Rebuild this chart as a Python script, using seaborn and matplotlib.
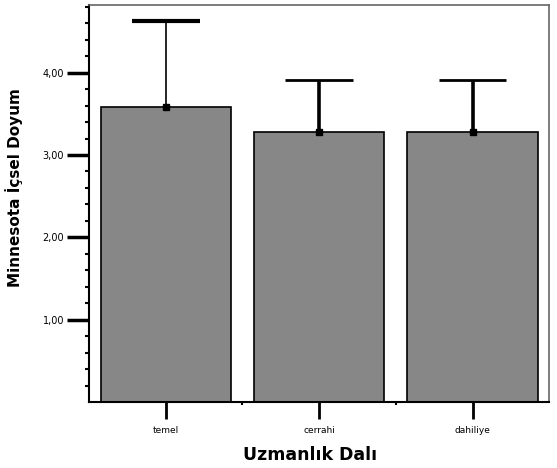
import numpy as np
import pandas as pd
import seaborn as sns
import matplotlib.pyplot as plt
from matplotlib.ticker import FixedLocator, FuncFormatter

# Data
categories = ['temel', 'cerrahi', 'dahiliye']
means = [3.58, 3.28, 3.28]
upper_err = [1.05, 0.63, 0.63]
y_ticks = [1, 2, 3, 4]

df = pd.DataFrame({'Uzmanlık Dalı': categories, 'Minnesota İçsel Doyum': means})

sns.set_style('ticks')
plt.rcParams['font.family'] = ['DejaVu Sans']
plt.rcParams['text.color'] = 'black'
plt.rcParams['axes.labelcolor'] = 'black'
plt.rcParams['xtick.color'] = 'black'
plt.rcParams['ytick.color'] = 'black'

fig = plt.figure(figsize=(5.57, 4.68), dpi=100)
ax = fig.add_axes([0.160, 0.141, 0.826, 0.848])

sns.barplot(data=df, x='Uzmanlık Dalı', y='Minnesota İçsel Doyum', order=categories,
            color='#878787', saturation=1, width=0.85, edgecolor='black',
            linewidth=1.2, errorbar=None, ax=ax)

# upper-only error bars with a small square at the mean
x = np.arange(len(categories))
cap_lw = [3.0, 2.0, 2.0]
stem_lw = [1.2, 2.6, 2.6]
for i in range(len(categories)):
    ax.errorbar(x[i], means[i], yerr=[[0], [upper_err[i]]], fmt='s', color='black',
                markersize=5, elinewidth=stem_lw[i], capsize=0, zorder=4)
    ax.hlines(means[i] + upper_err[i], x[i] - 0.22, x[i] + 0.22, color='black',
              linewidth=cap_lw[i], zorder=4)

ax.set_xlim(-0.5, 2.5)
ax.set_ylim(0, 4.82)

ax.yaxis.set_major_locator(FixedLocator(y_ticks))
ax.yaxis.set_minor_locator(FixedLocator([v for v in np.arange(0.2, 4.81, 0.2)
                                         if abs(v - round(v)) > 0.01]))
ax.yaxis.set_major_formatter(FuncFormatter(lambda v, p: f'{v:.2f}'.replace('.', ',')))
ax.tick_params(axis='y', which='major', length=16, width=2.5, labelsize=7, pad=2)
ax.tick_params(axis='y', which='minor', length=3, width=1.5)
ax.set_xticks(x)
ax.set_xticks([0.5, 1.5], minor=True)
ax.tick_params(axis='x', which='major', length=12, width=2, labelsize=6.5, pad=5)
ax.tick_params(axis='x', which='minor', length=2, width=1.5)

for side in ['left', 'bottom']:
    ax.spines[side].set_color('black')
    ax.spines[side].set_linewidth(1.5)
for side in ['top', 'right']:
    ax.spines[side].set_color('#666666')
    ax.spines[side].set_linewidth(1.2)

ax.set_xlabel('Uzmanlık Dalı', fontsize=12.5, fontweight='bold')
ax.set_ylabel('Minnesota İçsel Doyum', fontsize=11, fontweight='semibold')
ax.xaxis.set_label_coords(0.48, -0.11)
ax.yaxis.set_label_coords(-0.143, 0.54)

plt.savefig('out.png', dpi=100)
plt.close()
